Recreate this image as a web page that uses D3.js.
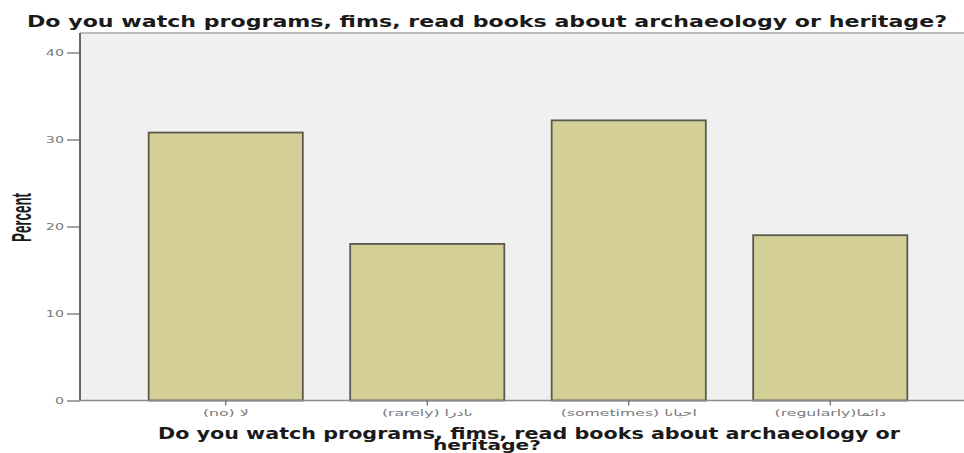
<!DOCTYPE html>
<html><head><meta charset="utf-8">
<script src="https://cdn.jsdelivr.net/npm/d3@7"></script>
<style>body{margin:0;background:#fff;overflow:hidden}</style></head>
<body>
<script>
const categories = ["(no) لا", "(rarely) نادرا", "(sometimes) احيانا", "(regularly)دائما"];
const percents = [30.8, 18.0, 32.2, 19.0];
const yTicks = [0, 10, 20, 30, 40];
const titleText = "Do you watch programs, fims, read books about archaeology or heritage?";
const xTitleLines = ["Do you watch programs, fims, read books about archaeology or", "heritage?"];
const yTitleText = "Percent";

const W = 964, H = 453;
const svg = d3.select("body").append("svg").attr("width", W).attr("height", H);

const x = d3.scaleBand().domain(categories).range([125, 931]).paddingInner(0.235).paddingOuter(0.1175);
const y = d3.scaleLinear().domain([0, 40]).range([400.5, 52.5]);

function stretch(sel, f) {
  sel.each(function () {
    const len = this.getComputedTextLength();
    d3.select(this).attr("textLength", len * f).attr("lengthAdjust", "spacingAndGlyphs");
  });
}

// plot background
svg.append("rect").attr("x", 80).attr("y", 33).attr("width", W - 80 + 5).attr("height", y(0) - 33)
  .attr("fill", "#f0f0f0");
svg.append("line").attr("x1", 80).attr("x2", W).attr("y1", 33).attr("y2", 33)
  .attr("stroke", "#a8a8a8").attr("stroke-width", 1.5);

// bars
svg.append("g").selectAll("rect").data(categories).join("rect")
  .attr("x", d => x(d)).attr("width", x.bandwidth())
  .attr("y", (d, i) => y(percents[i])).attr("height", (d, i) => y(0) - y(percents[i]))
  .attr("fill", "#d3cf96").attr("stroke", "#5a5a4e").attr("stroke-width", 1.8);

// y axis
const yAxis = svg.append("g").attr("transform", "translate(80,0)")
  .call(d3.axisLeft(y).tickValues(yTicks).tickSize(13).tickPadding(3));
yAxis.select(".domain").attr("d", `M0,33V${y(0)}`).attr("stroke", "#666").attr("stroke-width", 2);
yAxis.selectAll(".tick line").attr("stroke", "#666").attr("stroke-width", 1.2);
yAxis.selectAll(".tick text").attr("font-family", "DejaVu Sans").attr("font-size", 9.5)
  .attr("fill", "#7a7a7a").call(stretch, 1.5);

// x axis
const xAxis = svg.append("g").attr("transform", `translate(0,${y(0)})`)
  .call(d3.axisBottom(x).tickSize(5).tickPadding(4));
xAxis.select(".domain").attr("d", `M80,0H${W}`).attr("stroke", "#8a8a8a").attr("stroke-width", 1.5);
xAxis.selectAll(".tick line").attr("stroke", "#666").attr("stroke-width", 1.2);
xAxis.selectAll(".tick text").attr("font-family", "DejaVu Sans").attr("font-size", 9.5)
  .attr("fill", "#7a7a7a").attr("direction", "ltr").call(stretch, 1.65);

// chart title
svg.append("text").attr("x", 487).attr("y", 27).attr("text-anchor", "middle")
  .attr("font-family", "DejaVu Sans").attr("font-weight", "bold").attr("font-size", 16.5)
  .attr("fill", "#1a1a1a").attr("textLength", 920).attr("lengthAdjust", "spacingAndGlyphs")
  .text(titleText);

// x axis title (two wrapped lines)
svg.append("text").attr("x", 529).attr("y", 438.5).attr("text-anchor", "middle")
  .attr("font-family", "DejaVu Sans").attr("font-weight", "bold").attr("font-size", 15.5)
  .attr("fill", "#1a1a1a").attr("textLength", 742).attr("lengthAdjust", "spacingAndGlyphs")
  .text(xTitleLines[0]);
svg.append("text").attr("x", 487).attr("y", 450).attr("text-anchor", "middle")
  .attr("font-family", "DejaVu Sans").attr("font-weight", "bold").attr("font-size", 14)
  .attr("fill", "#1a1a1a").attr("textLength", 108).attr("lengthAdjust", "spacingAndGlyphs")
  .text(xTitleLines[1]);

// y axis title
svg.append("text").attr("transform", "translate(31,217.5) rotate(-90)").attr("text-anchor", "middle")
  .attr("font-family", "Liberation Sans Narrow, Liberation Sans").attr("font-weight", "bold").attr("font-size", 28)
  .attr("fill", "#1a1a1a").attr("textLength", 49).attr("lengthAdjust", "spacingAndGlyphs")
  .text(yTitleText);
</script>
</body></html>
